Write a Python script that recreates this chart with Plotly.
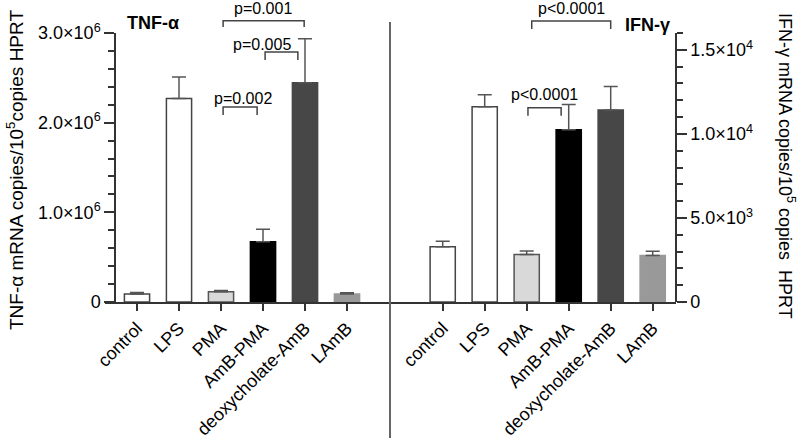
import plotly.graph_objects as go

categories = ["control", "LPS", "PMA", "AmB-PMA", "deoxycholate-AmB", "LAmB"]
tnf_values = [0.09e6, 2.27e6, 0.115e6, 0.672e6, 2.445e6, 0.09e6]
tnf_errors = [0.015e6, 0.24e6, 0.012e6, 0.14e6, 0.49e6, 0.012e6]
ifn_values = [3.28e3, 11.62e3, 2.83e3, 10.24e3, 11.42e3, 2.77e3]
ifn_errors = [0.34e3, 0.71e3, 0.21e3, 1.5e3, 1.4e3, 0.25e3]
bar_colors = ["#ffffff", "#ffffff", "#d9d9d9", "#000000", "#474747", "#999999"]
line_colors = ["#444444", "#444444", "#555555", "#000000", "#474747", "#999999"]
tnf_tickvals = [0, 1e6, 2e6, 3e6]
tnf_ticktext = ["0", "1.0×10<sup>6</sup>", "2.0×10<sup>6</sup>", "3.0×10<sup>6</sup>"]
ifn_tickvals = [0, 5e3, 1e4, 1.5e4]
ifn_ticktext = ["0", "5.0×10<sup>3</sup>", "1.0×10<sup>4</sup>", "1.5×10<sup>4</sup>"]
# significance brackets: (x start, x end, y top, leg bottom, label, label x, label y)
tnf_brackets = [
    (2.05, 3.98, 3.136e6, 3.066e6, "p=0.001", 3.0, 3.27e6),
    (3.05, 3.83, 2.787e6, 2.698e6, "p=0.005", 2.98, 2.87e6),
    (2.05, 2.86, 2.174e6, 2.085e6, "p=0.002", 2.52, 2.27e6),
]
ifn_brackets = [
    (2.12, 4.0, 16.72e3, 16.24e3, "p<0.0001", 3.06, 17.45e3),
    (2.03, 2.82, 11.56e3, 11.08e3, "p<0.0001", 2.43, 12.35e3),
]

W, H = 800, 438
FONT = "Arial, Liberation Sans, Helvetica, sans-serif"
AX = "#333333"
y_dom = [1 - 302 / H, 1 - 33 / H]
tnf_range = [0, 3e6]
ifn_range = [0, 1.6e4]


def py(v, rng):
    return y_dom[0] + (v - rng[0]) / (rng[1] - rng[0]) * (y_dom[1] - y_dom[0])


fig = go.Figure()
fig.add_trace(go.Bar(
    x=categories, y=tnf_values, width=0.6,
    marker=dict(color=bar_colors, line=dict(color=line_colors, width=1.5)),
    error_y=dict(type="data", array=tnf_errors, arrayminus=[0] * 6, symmetric=False,
                 color="#555555", thickness=1.5, width=7),
    xaxis="x", yaxis="y", showlegend=False,
))
fig.add_trace(go.Bar(
    x=categories, y=ifn_values, width=0.6,
    marker=dict(color=bar_colors, line=dict(color=line_colors, width=1.5)),
    error_y=dict(type="data", array=ifn_errors, arrayminus=[0] * 6, symmetric=False,
                 color="#555555", thickness=1.5, width=7),
    xaxis="x2", yaxis="y2", showlegend=False,
))

xcommon = dict(showline=True, linecolor=AX, linewidth=1.5, ticks="outside", ticklen=7,
               tickwidth=1.5, tickcolor=AX, tickangle=-45, showgrid=False, zeroline=False,
               automargin=False,
               tickfont=dict(family=FONT, size=18, color="#000"), type="category")
ycommon = dict(showline=True, linecolor=AX, linewidth=1.5, ticks="outside", ticklen=10,
               tickwidth=1.5, tickcolor=AX, showgrid=False, zeroline=False, automargin=False,
               tickfont=dict(family=FONT, size=18, color="#000"), domain=y_dom, anchor="free")

fig.update_layout(
    width=W, height=H, autosize=False,
    margin=dict(l=0, r=0, t=0, b=0, pad=0),
    paper_bgcolor="white", plot_bgcolor="white",
    bargap=0.4,
    xaxis=dict(domain=[105 / W, 390 / W], range=[(105 - 137) / 42, (390 - 137) / 42],
               anchor="y", **xcommon),
    xaxis2=dict(domain=[390 / W, 676 / W], range=[(390 - 442.7) / 42, (676 - 442.7) / 42],
                anchor="y2", **xcommon),
    yaxis=dict(range=tnf_range, position=115 / W, tickvals=tnf_tickvals, ticktext=tnf_ticktext,
               minor=dict(tick0=0, dtick=2e5, ticks="outside", ticklen=6, tickwidth=1.5,
                          tickcolor=AX), **ycommon),
    yaxis2=dict(range=ifn_range, position=676 / W, side="right", tickvals=ifn_tickvals,
                ticktext=ifn_ticktext,
                minor=dict(tick0=0, dtick=1e3, ticks="outside", ticklen=6, tickwidth=1.5,
                           tickcolor=AX), **ycommon),
)

shapes = [dict(type="line", xref="paper", yref="paper", x0=390 / W, x1=390 / W,
               y0=0, y1=1 - 22 / H, line=dict(color="#666666", width=2))]
annotations = []
for xr, brackets, rng in (("x", tnf_brackets, tnf_range), ("x2", ifn_brackets, ifn_range)):
    for x0, x1, yt, yb, label, lx, ly in brackets:
        shapes.append(dict(type="path", xref=xr, yref="paper",
                           path=f"M {x0},{py(yb, rng)} L {x0},{py(yt, rng)} L {x1},{py(yt, rng)} L {x1},{py(yb, rng)}",
                           line=dict(color="#444444", width=1.5)))
        annotations.append(dict(x=lx, y=py(ly, rng), xref=xr, yref="paper", text=label,
                                showarrow=False, font=dict(family=FONT, size=16, color="#000"),
                                xanchor="center", yanchor="middle"))

annotations += [
    dict(x=125 / W, y=1 - 23 / H, xref="paper", yref="paper", text="<b>TNF-α</b>",
         showarrow=False, xanchor="left", yanchor="middle",
         font=dict(family=FONT, size=18, color="#000")),
    dict(x=672 / W, y=1 - 25 / H, xref="paper", yref="paper", text="<b>IFN-γ</b>",
         showarrow=False, xanchor="right", yanchor="middle",
         font=dict(family=FONT, size=18, color="#000")),
    dict(x=15 / W, y=1 - 170 / H, xref="paper", yref="paper", textangle=-90,
         text="TNF-α mRNA copies/10<sup>5</sup>copies HPRT", showarrow=False,
         xanchor="center", yanchor="middle", font=dict(family=FONT, size=19, color="#000")),
    dict(x=787 / W, y=1 - 166 / H, xref="paper", yref="paper", textangle=90,
         text="IFN-γ mRNA copies/10<sup>5</sup> copies  HPRT", showarrow=False,
         xanchor="center", yanchor="middle", font=dict(family=FONT, size=18, color="#000")),
]
fig.update_layout(shapes=shapes, annotations=annotations)
fig.write_html("out.html", config={"displayModeBar": False},
               post_script="document.body.style.margin='0px';document.body.style.overflow='hidden';")
